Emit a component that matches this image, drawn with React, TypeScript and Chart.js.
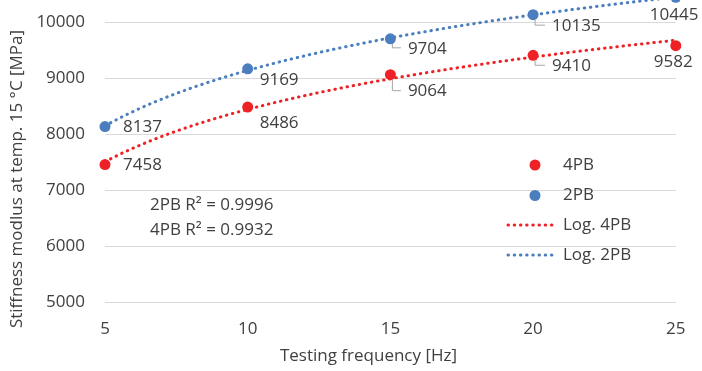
import React, { useEffect, useRef } from "react";
import { Chart, registerables } from "chart.js";

Chart.register(...registerables);

const frequencies = [5, 10, 15, 20, 25];
const values4PB = [7458, 8486, 9064, 9410, 9582];
const values2PB = [8137, 9169, 9704, 10135, 10445];
const r2Texts = ["2PB R² = 0.9996", "4PB R² = 0.9932"];
const xTitle = "Testing frequency [Hz]";
const yTitle = "Stiffness modlus at temp. 15 °C [MPa]";

const RED = "#EE2226";
const BLUE = "#4A7EBF";
const TEXT = "#404040";
const FONT = "'Open Sans', sans-serif";
const FS = 17;
const SHIFT = 64; // canvas is shifted up (reference is cropped at the top)

// label placement (dx to text left, dy to text centre, leader line flag)
const labelPos4PB = [
  [18, 1, 0], [12, 16, 0], [17.5, 17, 1], [19, 11, 1], [-22, 16.5, 0],
];
const labelPos2PB = [
  [18, 1, 0], [12, 11, 0], [17.5, 10, 1], [19, 11.5, 1], [-26, 18, 0],
];

function logFit(xs: number[], ys: number[]) {
  const ls = xs.map((x) => Math.log(x));
  const n = xs.length;
  const ml = ls.reduce((a, b) => a + b, 0) / n;
  const my = ys.reduce((a, b) => a + b, 0) / n;
  let sxy = 0, sxx = 0;
  for (let i = 0; i < n; i++) {
    sxy += (ls[i] - ml) * (ys[i] - my);
    sxx += (ls[i] - ml) * (ls[i] - ml);
  }
  const a = sxy / sxx;
  const b = my - a * ml;
  return (x: number) => a * Math.log(x) + b;
}

function trend(xs: number[], ys: number[]) {
  const f = logFit(xs, ys);
  const pts: { x: number; y: number }[] = [];
  const lo = xs[0], hi = xs[xs.length - 1];
  const steps = 80;
  for (let i = 0; i <= steps; i++) {
    const x = lo + ((hi - lo) * i) / steps;
    pts.push({ x, y: f(x) });
  }
  return pts;
}

const overlayPlugin = {
  id: "overlay",
  afterDatasetsDraw(chart: any) {
    const ctx = chart.ctx;
    const xs = chart.scales.x;
    const ys = chart.scales.y;
    ctx.save();
    ctx.font = `${FS}px ${FONT}`;
    ctx.fillStyle = TEXT;
    ctx.textBaseline = "middle";
    ctx.textAlign = "left";
    const drawLabels = (vals: number[], pos: number[][]) => {
      vals.forEach((v, i) => {
        const px = xs.getPixelForValue(frequencies[i]);
        const py = ys.getPixelForValue(v);
        const tx = px + pos[i][0];
        const ty = py + pos[i][1];
        if (pos[i][2]) {
          ctx.strokeStyle = "#A6A6A6";
          ctx.lineWidth = 1;
          ctx.beginPath();
          ctx.moveTo(px + 2, py + 5);
          ctx.lineTo(px + 2, ty - 1);
          ctx.lineTo(tx - 7, ty - 1);
          ctx.stroke();
        }
        ctx.fillText(String(v), tx, ty);
      });
    };
    drawLabels(values4PB, labelPos4PB);
    drawLabels(values2PB, labelPos2PB);

    // R² texts
    ctx.fillText(r2Texts[0], 150, 205 + SHIFT);
    ctx.fillText(r2Texts[1], 150, 230 + SHIFT);

    // legend
    const legendRows = [
      { label: chart.data.datasets[0].label, color: RED, type: "dot" },
      { label: chart.data.datasets[1].label, color: BLUE, type: "dot" },
      { label: chart.data.datasets[2].label, color: RED, type: "line" },
      { label: chart.data.datasets[3].label, color: BLUE, type: "line" },
    ];
    const rowY = [165, 195.5, 225, 255];
    legendRows.forEach((r, i) => {
      const y = rowY[i] + SHIFT;
      if (r.type === "dot") {
        ctx.fillStyle = r.color;
        ctx.beginPath();
        ctx.arc(535, y, 5.5, 0, Math.PI * 2);
        ctx.fill();
      } else {
        ctx.strokeStyle = r.color;
        ctx.lineWidth = 3;
        ctx.lineCap = "round";
        ctx.setLineDash([0.5, 5.7]);
        ctx.beginPath();
        ctx.moveTo(508, y);
        ctx.lineTo(557, y);
        ctx.stroke();
        ctx.setLineDash([]);
        ctx.lineCap = "butt";
      }
      ctx.fillStyle = TEXT;
      ctx.fillText(r.label, 563, y);
    });

    // axis titles
    ctx.textAlign = "center";
    ctx.fillText(xTitle, 368.5, 356 + SHIFT);
    ctx.translate(17, 179 + SHIFT);
    ctx.rotate(-Math.PI / 2);
    ctx.fillText(yTitle, 0, 0);
    ctx.restore();
  },
};

export default function App() {
  const ref = useRef<HTMLCanvasElement | null>(null);
  useEffect(() => {
    if (!ref.current) return;
    const chart = new Chart(ref.current, {
      type: "scatter",
      data: {
        datasets: [
          {
            label: "4PB",
            data: frequencies.map((x, i) => ({ x, y: values4PB[i] })),
            backgroundColor: RED,
            borderColor: RED,
            pointRadius: 5.5,
            pointBorderWidth: 0,
            clip: false,
            order: 0,
          },
          {
            label: "2PB",
            data: frequencies.map((x, i) => ({ x, y: values2PB[i] })),
            backgroundColor: BLUE,
            borderColor: BLUE,
            pointRadius: 5.5,
            pointBorderWidth: 0,
            clip: false,
            order: 0,
          },
          {
            label: "Log. 4PB",
            type: "line",
            data: trend(frequencies, values4PB),
            borderColor: RED,
            borderWidth: 3,
            borderDash: [0.5, 5.7],
            borderCapStyle: "round",
            pointRadius: 0,
            fill: false,
            tension: 0,
            clip: false,
            order: 1,
          } as any,
          {
            label: "Log. 2PB",
            type: "line",
            data: trend(frequencies, values2PB),
            borderColor: BLUE,
            borderWidth: 3,
            borderDash: [0.5, 5.7],
            borderCapStyle: "round",
            pointRadius: 0,
            fill: false,
            tension: 0,
            clip: false,
            order: 1,
          } as any,
        ],
      },
      options: {
        responsive: false,
        animation: false,
        devicePixelRatio: 1,
        layout: { padding: { left: 0, right: 24, top: 0, bottom: 0 } },
        plugins: {
          legend: { display: false },
          tooltip: { enabled: false },
        },
        scales: {
          x: {
            type: "linear",
            min: 5,
            max: 25,
            ticks: {
              stepSize: 5,
              padding: 16.5,
              color: TEXT,
              font: { family: FONT, size: FS },
            },
            grid: { display: false, drawTicks: false },
            border: { display: false },
            afterFit: (s: any) => {
              s.height = 68.7;
            },
          },
          y: {
            min: 5000,
            max: 11000,
            ticks: {
              stepSize: 1000,
              padding: 20,
              color: TEXT,
              font: { family: FONT, size: FS },
              callback: (v: any) => String(v),
            },
            grid: { color: "#D9D9D9", lineWidth: 1, drawTicks: false },
            border: { display: false },
            afterFit: (s: any) => {
              s.width = 105;
            },
          },
        },
      },
      plugins: [overlayPlugin],
    });
    return () => chart.destroy();
  }, []);
  return (
    <div
      style={{
        position: "fixed",
        left: 0,
        top: 0,
        width: 702,
        height: 371,
        overflow: "hidden",
        background: "#fff",
      }}
    >
      <canvas
        ref={ref}
        width={702}
        height={371 + SHIFT}
        style={{ position: "absolute", left: 0, top: -SHIFT, width: 702, height: 371 + SHIFT }}
      />
    </div>
  );
}
